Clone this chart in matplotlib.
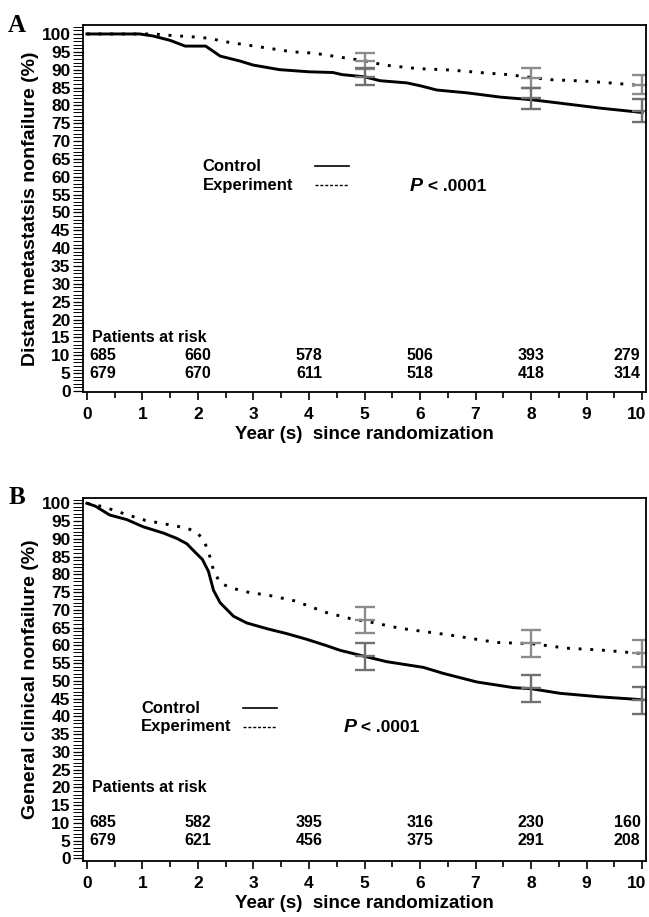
import matplotlib
matplotlib.use("Agg")
import matplotlib.pyplot as plt
from matplotlib.lines import Line2D
from matplotlib.ticker import MultipleLocator
from matplotlib.transforms import ScaledTranslation

plt.rcParams['font.family'] = ['Liberation Sans', 'DejaVu Sans']
plt.rcParams['font.weight'] = 'bold'

# ---------------- Panel A data ----------------
a_ctrl_t = [0, 0.95, 1.2, 1.5, 1.77, 2.14, 2.4, 2.76, 2.99, 3.47, 4.0, 4.43, 4.6, 5.0, 5.28, 5.76, 6.0, 6.3, 6.85, 7.45, 8.0, 8.53, 9.26, 10.0]
a_ctrl_v = [100, 100, 99.4, 98.2, 96.6, 96.6, 93.8, 92.4, 91.3, 90.0, 89.4, 89.2, 88.6, 88.0, 86.9, 86.3, 85.5, 84.3, 83.5, 82.3, 81.6, 80.6, 79.2, 78.0]
a_exp_t = [0, 1.2, 1.5, 1.9, 2.2, 2.5, 3.1, 3.7, 4.1, 4.6, 5.0, 5.35, 5.95, 6.55, 7.15, 7.6, 8.0, 8.35, 8.95, 9.5, 10.0]
a_exp_v = [100, 100, 99.6, 99.2, 98.8, 97.8, 96.4, 95.0, 94.6, 93.4, 92.5, 91.3, 90.3, 89.9, 89.1, 88.6, 87.8, 87.2, 86.8, 86.2, 85.5]
a_bar_x = [5, 8, 10]
a_bar_ctrl = [88.0, 82.0, 78.5]
a_bar_ctrl_err = [2.4, 3.0, 3.2]
a_bar_exp = [92.5, 87.7, 85.8]
a_bar_exp_err = [2.2, 2.8, 2.6]
a_risk_years = [0, 2, 4, 6, 8, 10]
a_risk_ctrl = [685, 660, 578, 506, 393, 279]
a_risk_exp = [679, 670, 611, 518, 418, 314]

# ---------------- Panel B data ----------------
b_ctrl_t = [0, 0.15, 0.41, 0.72, 1.01, 1.38, 1.62, 1.8, 1.95, 2.08, 2.19, 2.28, 2.4, 2.64, 2.88, 3.24, 3.6, 3.96, 4.3, 4.56, 4.95, 5.4, 6.06, 6.42, 7.02, 7.68, 8.0, 8.52, 9.24, 10.0]
b_ctrl_v = [100, 99.2, 96.7, 95.4, 93.4, 91.6, 90.1, 88.6, 86.2, 84.2, 80.8, 75.5, 72.0, 68.2, 66.3, 64.7, 63.3, 61.7, 60.0, 58.6, 57.1, 55.4, 53.8, 52.1, 49.7, 48.1, 47.8, 46.5, 45.5, 44.7]
b_exp_t = [0, 0.3, 0.72, 1.05, 1.5, 1.8, 1.98, 2.1, 2.19, 2.28, 2.4, 2.6, 2.85, 3.3, 3.75, 4.3, 4.8, 5.0, 5.64, 6.54, 7.38, 8.0, 8.64, 9.24, 10.0]
b_exp_v = [100, 99.0, 96.8, 95.2, 93.9, 93.0, 91.8, 89.7, 86.4, 81.2, 77.5, 76.2, 75.1, 74.0, 72.5, 69.3, 67.3, 66.9, 64.8, 62.9, 60.8, 60.5, 59.2, 58.7, 57.7]
b_bar_x = [5, 8, 10]
b_bar_ctrl = [57.0, 47.9, 44.6]
b_bar_ctrl_err = [3.8, 3.8, 3.8]
b_bar_exp = [67.1, 60.6, 57.8]
b_bar_exp_err = [3.6, 3.8, 3.8]
b_risk_years = [0, 2, 4, 6, 8, 10]
b_risk_ctrl = [685, 582, 395, 316, 230, 160]
b_risk_exp = [679, 621, 456, 375, 291, 208]

x_ticks = list(range(0, 11))
y_ticks = list(range(0, 101, 5))

TICK_FS = 12.5
LAB_FS = 14
TXT_FS = 11.5


def draw_panel(fig, ax, letter, ylabel, ctrl_t, ctrl_v, exp_t, exp_v,
               bx, bctrl, bctrl_e, bexp, bexp_e,
               ryears, rctrl, rexp, ylim, risk_title_y, legend_xy, legline_x, p_xy):
    ax.plot(ctrl_t, ctrl_v, color='black', lw=2.1, solid_joinstyle='round')
    ax.plot(exp_t, exp_v, color='black', lw=2.1, linestyle=(0, (1, 3.0)))
    ax.errorbar(bx, bexp, yerr=bexp_e, fmt='_', color='#8c8c8c', ms=15,
                mew=1.7, elinewidth=1.7, capsize=7.5, capthick=1.7)
    ax.errorbar(bx, bctrl, yerr=bctrl_e, fmt='_', color='#707070', ms=15,
                mew=1.7, elinewidth=1.7, capsize=7.5, capthick=1.7)

    ax.set_xlim(-0.07, 10.07)
    ax.set_ylim(*ylim)
    ax.set_xticks(x_ticks)
    ax.set_yticks(y_ticks)
    ax.xaxis.set_minor_locator(MultipleLocator(0.5))
    ax.yaxis.set_minor_locator(MultipleLocator(1))
    ax.tick_params(axis='y', which='major', direction='out', length=7, width=0.9,
                   labelsize=TICK_FS, pad=2)
    ax.tick_params(axis='y', which='minor', direction='out', length=7, width=0.7)
    ax.tick_params(axis='x', which='major', direction='out', length=6, width=1.2,
                   labelsize=TICK_FS, pad=5)
    ax.tick_params(axis='x', which='minor', direction='out', length=4, width=1.2)
    for lab in ax.get_xticklabels() + ax.get_yticklabels():
        lab.set_fontweight('bold')
    # keep the last x tick label inside the figure
    last = ax.get_xticklabels()[-1]
    last.set_transform(last.get_transform() + ScaledTranslation(-4 / 72, 0, fig.dpi_scale_trans))
    for sp in ax.spines.values():
        sp.set_linewidth(1.3)

    ax.set_xlabel('Year (s)  since randomization', fontsize=13.5, fontweight='bold', labelpad=3)
    ax.set_ylabel(ylabel, fontsize=LAB_FS, fontweight='bold', labelpad=2)

    # panel letter
    ax.text(-0.133, 1.0, letter, transform=ax.transAxes, fontsize=18, fontweight='bold',
            family='Liberation Serif', va='center', ha='left')

    # patients at risk
    ax.text(0.1, risk_title_y, 'Patients at risk', fontsize=TXT_FS, fontweight='bold',
            va='center', ha='left')
    for i, (yr, c, e) in enumerate(zip(ryears, rctrl, rexp)):
        if i == 0:
            ha, xx = 'left', yr + 0.05
        elif i == len(ryears) - 1:
            ha, xx = 'right', yr - 0.03
        else:
            ha, xx = 'center', yr
        ax.text(xx, 10, str(c), fontsize=TXT_FS, fontweight='bold', va='center', ha=ha)
        ax.text(xx, 5, str(e), fontsize=TXT_FS, fontweight='bold', va='center', ha=ha)

    # legend
    lx, ly = legend_xy
    ax.text(lx, ly, 'Control', fontsize=12, fontweight='bold', va='center', ha='left')
    ax.text(lx, ly - 5.2, 'Experiment', fontsize=12, fontweight='bold', va='center', ha='left')
    ax.add_line(Line2D(legline_x, [ly + 0.2, ly + 0.2], color='black', lw=1.2))
    ax.add_line(Line2D(legline_x, [ly - 5.2, ly - 5.2], color='black', lw=1.0,
                       linestyle=(0, (2.2, 1.3))))
    t1 = ax.text(p_xy[0], p_xy[1], 'P', fontsize=14, fontweight='bold', style='italic',
                 va='center', ha='left')
    ax.annotate(' < .0001', xy=(1, 0.5), xycoords=t1, fontsize=12.5, fontweight='bold',
                va='center', ha='left')


fig = plt.figure(figsize=(6.49, 9.17), dpi=100)
axA = fig.add_axes([0.1279, 0.5725, 0.8675, 0.4002])
axB = fig.add_axes([0.1279, 0.0611, 0.8675, 0.3959])

draw_panel(fig, axA, 'A', 'Distant metastatsis nonfailure (%)',
           a_ctrl_t, a_ctrl_v, a_exp_t, a_exp_v,
           a_bar_x, a_bar_ctrl, a_bar_ctrl_err, a_bar_exp, a_bar_exp_err,
           a_risk_years, a_risk_ctrl, a_risk_exp,
           (-0.3, 102.5), 15, (2.08, 62.8), [4.11, 4.72], (5.82, 57.4))

draw_panel(fig, axB, 'B', 'General clinical nonfailure (%)',
           b_ctrl_t, b_ctrl_v, b_exp_t, b_exp_v,
           b_bar_x, b_bar_ctrl, b_bar_ctrl_err, b_bar_exp, b_bar_exp_err,
           b_risk_years, b_risk_ctrl, b_risk_exp,
           (-0.7, 101.5), 20, (0.98, 42.3), [2.82, 3.42], (4.62, 36.8))

fig.savefig('out.png', dpi=100)
